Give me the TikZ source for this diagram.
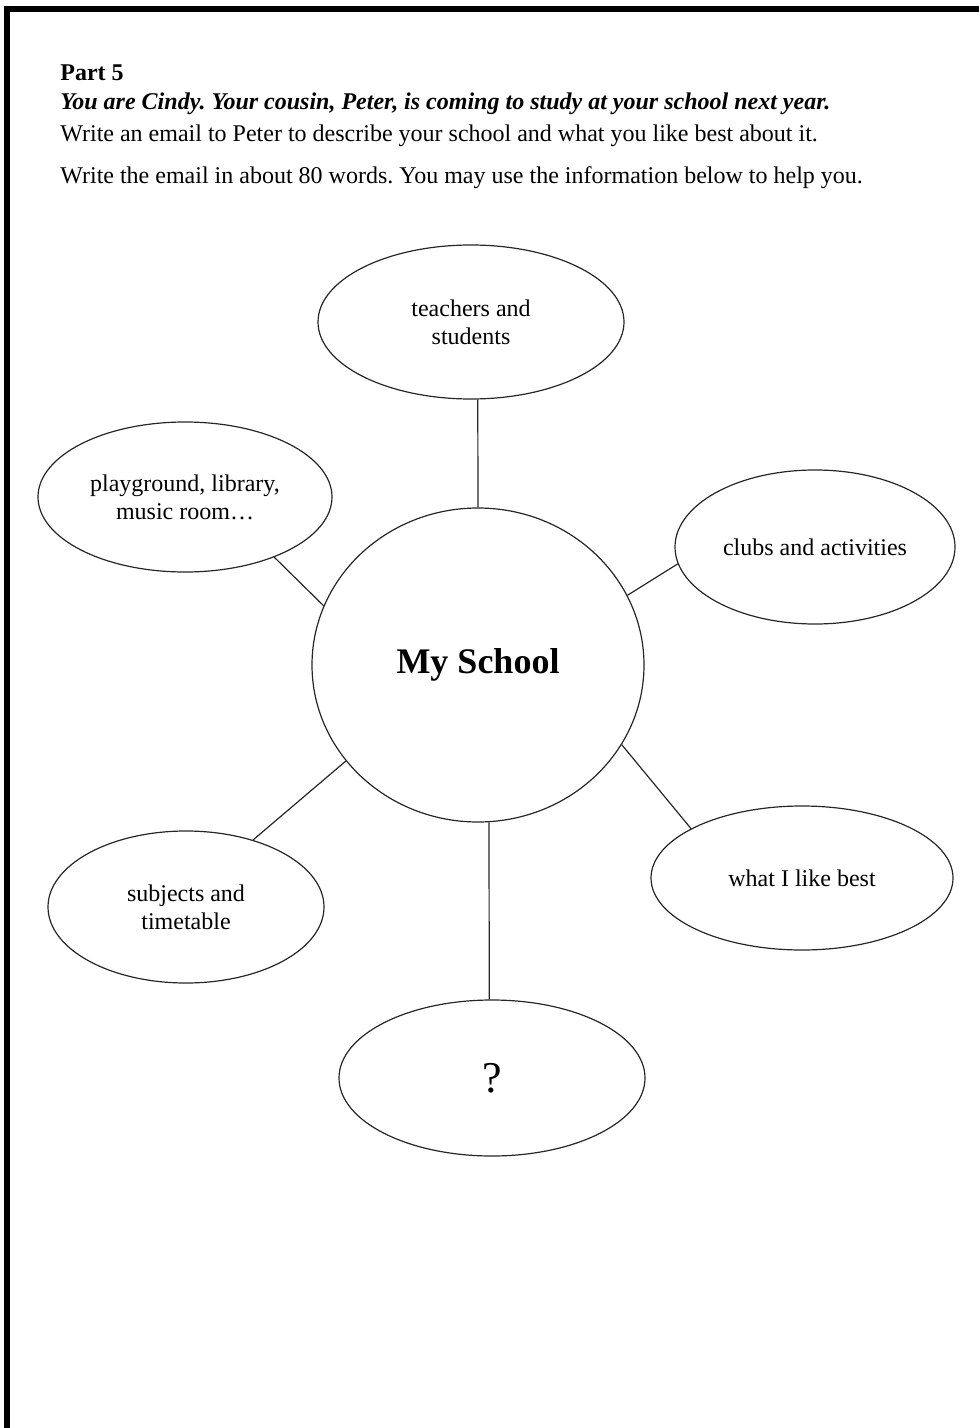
\documentclass[tikz,border=0pt]{standalone}
\usepackage{fontspec}
\setmainfont{Liberation Serif}
\usetikzlibrary{shapes.geometric}
\frenchspacing

\begin{document}
\begin{tikzpicture}[
    x=0.5pt, y=-0.5pt,
    line/.style={draw=black!85, line width=0.6pt},
    topic/.style={
        ellipse,
        draw=black!85,
        line width=0.6pt,
        inner sep=0pt,
        align=center,
        font=\fontsize{12}{14}\selectfont
    },
    hub/.style={
        ellipse,
        draw=black!85,
        line width=0.6pt,
        inner sep=0pt,
        font=\fontsize{18}{20}\selectfont\bfseries
    },
    task/.style={anchor=base west, inner sep=0pt, font=\fontsize{12}{14}\selectfont}
]
\useasboundingbox (0,0) rectangle (979,1428);

% =========================================================
% Frame
% =========================================================
\draw[line width=3pt] (7,1428) -- (7,9) -- (979,9);

% =========================================================
% Task text
% =========================================================
\node[task] (part) at (60,81) {\textbf{Part 5}};
\node[task] (role) at (60,110) {\textbf{\textit{You are Cindy. Your cousin, Peter, is coming to study at your school next year.}}};
\node[task] (write) at (60,142) {Write an email to Peter to describe your school and what you like best about it.};
\node[task] (words) at (60,184) {Write the email in about 80 words. You may use the information below to help you.};

% =========================================================
% Mind map
% =========================================================
\node[hub, minimum width=166pt, minimum height=157pt] (school) at (478,665) {My School};

\node[topic, minimum width=153pt, minimum height=77pt] (people) at (471,322) {teachers and\\students};
\node[topic, minimum width=147pt, minimum height=75pt] (places) at (185,497) {playground, library,\\music room\dots};
\node[topic, minimum width=140pt, minimum height=77pt] (clubs) at (815,547) {clubs and activities};
\node[topic, minimum width=138pt, minimum height=76pt] (subjects) at (186,907) {subjects and\\timetable};
\node[topic, minimum width=151pt, minimum height=72pt] (best) at (802,878) {what I like best};
\node[topic, minimum width=153pt, minimum height=78pt, font=\fontsize{22}{24}\selectfont] (other) at (492,1078) {?};

% Spokes
\draw[line] (school.90) -- (people.-85);
\draw[line] (school.159) -- (places.-34);
\draw[line] (school.25) -- (clubs.187);
\draw[line] (school.216) -- (subjects.45);
\draw[line] (school.-29) -- (best.156);
\draw[line] (school.-86) -- (other.92);

\end{tikzpicture}
\end{document}
